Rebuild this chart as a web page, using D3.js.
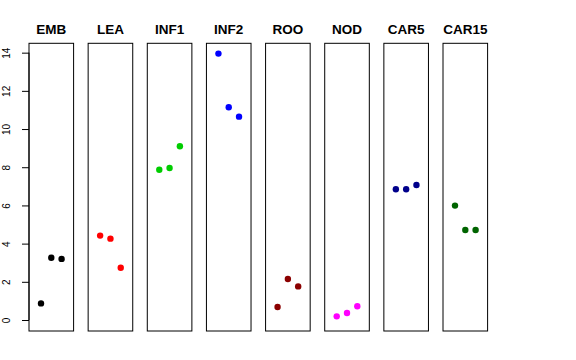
<!DOCTYPE html>
<html>
<head>
<meta charset="utf-8">
<script src="https://cdn.jsdelivr.net/npm/d3@7"></script>
<style>
  html, body { margin: 0; padding: 0; background: #fff; }
  svg { display: block; }
</style>
</head>
<body>
<svg id="chart" width="576" height="360"></svg>
<script>
// ---- data ----
const categories = ["EMB", "LEA", "INF1", "INF2", "ROO", "NOD", "CAR5", "CAR15"];
const colors = ["#000000", "#FF0000", "#00CD00", "#0000FF", "#8B0000", "#FF00FF", "#00008B", "#006400"];
const replicate = [1, 2, 3];
const valuesEMB   = [0.87, 3.26, 3.20];
const valuesLEA   = [4.42, 4.26, 2.74];
const valuesINF1  = [7.87, 7.96, 9.10];
const valuesINF2  = [13.95, 11.14, 10.65];
const valuesROO   = [0.68, 2.15, 1.76];
const valuesNOD   = [0.19, 0.37, 0.72];
const valuesCAR5  = [6.85, 6.85, 7.07];
const valuesCAR15 = [5.99, 4.71, 4.71];
const seriesValues = [valuesEMB, valuesLEA, valuesINF1, valuesINF2, valuesROO, valuesNOD, valuesCAR5, valuesCAR15];
const yTicks = [0, 2, 4, 6, 8, 10, 12, 14];

// ---- layout ----
const svg = d3.select("#chart");
const plotTop = 43.3, plotBottom = 331;
const y = d3.scaleLinear().domain([-0.576, 14.49]).range([plotBottom, plotTop]);
const panel = d3.scaleBand().domain(categories).range([29, 487.6]).paddingInner(0.246).paddingOuter(0);
const x = d3.scaleLinear().domain([-0.165, 4.165]).range([0, panel.bandwidth()]);

const font = "'Liberation Sans', Arial, Helvetica, sans-serif";

categories.forEach((cat, i) => {
  const g = svg.append("g").attr("transform", `translate(${panel(cat)},0)`);
  g.append("rect")
    .attr("x", 0).attr("y", plotTop)
    .attr("width", panel.bandwidth()).attr("height", plotBottom - plotTop)
    .attr("fill", "none").attr("stroke", "#000").attr("stroke-width", 1);
  g.append("text")
    .attr("x", panel.bandwidth() / 2).attr("y", 34)
    .attr("text-anchor", "middle")
    .attr("font-family", font).attr("font-weight", "bold").attr("font-size", 13.5)
    .text(cat);
  g.selectAll("circle")
    .data(seriesValues[i])
    .enter().append("circle")
    .attr("cx", (d, j) => x(replicate[j]))
    .attr("cy", d => y(d))
    .attr("r", 3.2)
    .attr("fill", colors[i]);
});

// ---- y axis ----
const axisX = panel(categories[0]);
const axis = d3.axisLeft(y).tickValues(yTicks).tickSize(7).tickSizeOuter(0).tickFormat(d3.format("d"));
const ag = svg.append("g").attr("transform", `translate(${axisX},0)`).call(axis);
ag.select(".domain").remove();
ag.append("line").attr("x1", 0).attr("x2", 0).attr("y1", y(0)).attr("y2", y(14)).attr("stroke", "#000");
ag.selectAll(".tick line").attr("stroke", "#000");
ag.selectAll(".tick text")
  .attr("x", 0).attr("dy", null)
  .attr("transform", `translate(${6.8 - axisX},0) rotate(-90)`)
  .attr("text-anchor", "middle")
  .attr("dominant-baseline", "central")
  .attr("font-family", font).attr("font-size", 10)
  .attr("fill", "#000");
</script>
</body>
</html>
